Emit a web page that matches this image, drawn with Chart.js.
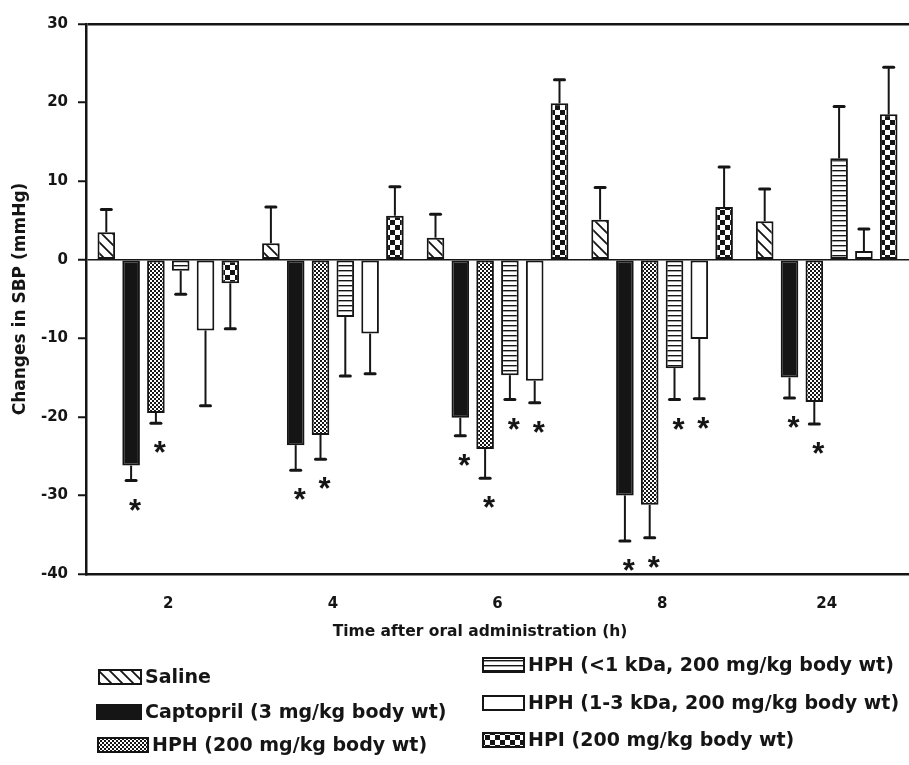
<!DOCTYPE html>
<html>
<head>
<meta charset="utf-8">
<script src="https://cdn.jsdelivr.net/npm/chart.js@4.4.0/dist/chart.umd.min.js"></script>
<style>
    html, body { margin: 0; padding: 0; background: #fff; }
</style>
</head>
<body>
<canvas id="sbpChart" width="909" height="765"></canvas>
<script>
// time points (h)
const hours = ['2', '4', '6', '8', '24']

const groupNames = [
    'Saline',
    'Captopril (3 mg/kg body wt)',
    'HPH (200 mg/kg body wt)',
    'HPH (<1 kDa, 200 mg/kg body wt)',
    'HPH (1-3 kDa, 200 mg/kg body wt)',
    'HPI (200 mg/kg body wt)'
]

// mean change in SBP (mmHg) and SE
const saline = [3.5, 2.1, 2.8, 5.1, 4.9]
const salineErr = [2.9, 4.6, 3.0, 4.1, 4.1]
const captopril = [-26.2, -23.6, -20.1, -30.0, -15.0]
const captoprilErr = [1.9, 3.2, 2.3, 5.8, 2.6]
const hph = [-19.5, -22.3, -24.1, -31.2, -18.1]
const hphErr = [1.3, 3.1, 3.7, 4.2, 2.8]
const hphLow = [-1.4, -7.3, -14.7, -13.8, 12.9]
const hphLowErr = [3.0, 7.5, 3.1, 4.0, 6.6]
const hphMid = [-9.0, -9.4, -15.4, -10.1, 1.1]
const hphMidErr = [9.6, 5.1, 2.8, 7.6, 2.8]
const hpi = [-3.0, 5.6, 19.9, 6.7, 18.5]
const hpiErr = [5.8, 3.7, 3.0, 5.1, 6.0]

// significance marks (*)
const noStars = [0, 0, 0, 0, 0]
const captoprilStars = [1, 1, 1, 1, 1]
const hphStars = [1, 1, 1, 1, 1]
const hphLowStars = [0, 0, 1, 1, 0]
const hphMidStars = [0, 0, 1, 1, 0]

const yTicks = [-40, -30, -20, -10, 0, 10, 20, 30]

const INK = '#151515'
const FONT = '"DejaVu Sans", Verdana, sans-serif'
const STAR_FONT = '"Liberation Sans", Arial, sans-serif'

const makePattern = function (w, h, paint) {
    const c = document.createElement('canvas')
    c.width = w
    c.height = h
    const g = c.getContext('2d')
    g.fillStyle = '#fff'
    g.fillRect(0, 0, w, h)
    g.fillStyle = INK
    g.strokeStyle = INK
    paint(g, w, h)
    return g.createPattern(c, 'repeat')
}

const stripes = makePattern(11, 11, function (g, w, h) {
    g.lineWidth = 1.8
    g.beginPath()
    g.moveTo(-2, -2); g.lineTo(w + 2, h + 2)
    g.moveTo(-2, h - 2); g.lineTo(2, h + 2)
    g.moveTo(w - 2, -2); g.lineTo(w + 2, 2)
    g.stroke()
})
const fineChecks = makePattern(4, 4, function (g) {
    g.fillRect(0, 0, 2, 2)
    g.fillRect(2, 2, 2, 2)
})
const hLines = makePattern(4, 5, function (g) {
    g.fillRect(0, 0, 4, 1.4)
})
const bigChecks = makePattern(10, 10, function (g) {
    g.fillRect(0, 0, 5, 5)
    g.fillRect(5, 5, 5, 5)
})

const fills = [stripes, INK, fineChecks, hLines, '#fff', bigChecks]
const means = [saline, captopril, hph, hphLow, hphMid, hpi]
const errs = [salineErr, captoprilErr, hphErr, hphLowErr, hphMidErr, hpiErr]
const stars = [noStars, captoprilStars, hphStars, hphLowStars, hphMidStars, noStars]

const datasets = groupNames.map(function (name, i) {
    return {
        label: name,
        data: means[i],
        errors: errs[i],
        stars: stars[i],
        backgroundColor: fills[i],
        borderColor: INK,
        borderWidth: 2,
        borderSkipped: false,
        categoryPercentage: 0.904,
        barPercentage: 0.71
    }
})

const errorBars = {
    id: 'errorBars',
    afterDatasetsDraw: function (chart) {
        const ctx = chart.ctx
        const y = chart.scales.y
        ctx.save()
        ctx.strokeStyle = INK
        ctx.fillStyle = INK
        chart.data.datasets.forEach(function (ds, i) {
            chart.getDatasetMeta(i).data.forEach(function (bar, j) {
                const v = ds.data[j]
                const dir = v < 0 ? -1 : 1
                const end = y.getPixelForValue(v + dir * ds.errors[j])
                ctx.lineWidth = 2
                ctx.lineCap = 'butt'
                ctx.beginPath()
                ctx.moveTo(bar.x, bar.y)
                ctx.lineTo(bar.x, end)
                ctx.stroke()
                ctx.lineWidth = 3
                ctx.lineCap = 'round'
                ctx.beginPath()
                ctx.moveTo(bar.x - 5, end)
                ctx.lineTo(bar.x + 5, end)
                ctx.stroke()
                if (ds.stars[j]) {
                    ctx.font = 'bold 31px ' + STAR_FONT
                    ctx.textAlign = 'center'
                    ctx.textBaseline = 'alphabetic'
                    ctx.fillText('*', bar.x + 4, end + 26 + 14)
                }
            })
        })
        ctx.restore()
    }
}

const legendItems = [
    { i: 0, x: 99, y: 677, w: 42 },
    { i: 1, x: 97, y: 712, w: 44 },
    { i: 2, x: 98, y: 745, w: 50 },
    { i: 3, x: 483, y: 665, w: 41 },
    { i: 4, x: 483, y: 703, w: 41 },
    { i: 5, x: 483, y: 740, w: 41 }
]

const extras = {
    id: 'extras',
    afterDraw: function (chart) {
        const ctx = chart.ctx
        ctx.save()
        ctx.fillStyle = INK
        ctx.font = 'bold 15.5px ' + FONT
        ctx.textAlign = 'center'
        ctx.textBaseline = 'middle'
        ctx.fillText('Time after oral administration (h)', 480, 632)

        ctx.font = 'bold 19px ' + FONT
        ctx.textAlign = 'left'
        legendItems.forEach(function (it) {
            ctx.fillStyle = fills[it.i]
            ctx.fillRect(it.x, it.y - 7, it.w, 14)
            ctx.strokeStyle = INK
            ctx.lineWidth = 2
            ctx.strokeRect(it.x, it.y - 7, it.w, 14)
            ctx.fillStyle = INK
            ctx.fillText(groupNames[it.i], it.x + it.w + 4, it.y + 1)
        })
        ctx.restore()
    }
}

new Chart(document.getElementById('sbpChart'), {
    type: 'bar',
    data: {
        labels: hours,
        datasets: datasets
    },
    plugins: [errorBars, extras],
    options: {
        responsive: false,
        animation: false,
        layout: { padding: { top: 24, right: 0, bottom: 0, left: 0 } },
        plugins: {
            legend: { display: false },
            tooltip: { enabled: false }
        },
        scales: {
            x: {
                grid: { display: false, drawTicks: false },
                border: { display: true, color: INK, width: 2.5 },
                ticks: {
                    color: INK,
                    padding: 21,
                    maxRotation: 0,
                    font: { family: FONT, size: 15, weight: 'bold' }
                },
                afterFit: function (scale) { scale.height = 191 }
            },
            y: {
                min: yTicks[0],
                max: yTicks[yTicks.length - 1],
                afterBuildTicks: function (scale) {
                    scale.ticks = yTicks.map(function (v) { return { value: v } })
                },
                grid: {
                    color: function (c) {
                        return c.tick && (c.tick.value === 0 || c.tick.value === 30) ? INK : 'rgba(0,0,0,0)'
                    },
                    lineWidth: function (c) {
                        return c.tick && c.tick.value === 0 ? 1.5 : 2.5
                    },
                    tickColor: INK,
                    tickWidth: 2,
                    tickLength: 8
                },
                border: { display: true, color: INK, width: 2.5 },
                ticks: {
                    color: INK,
                    padding: 10,
                    font: { family: FONT, size: 15, weight: 'bold' }
                },
                title: {
                    display: true,
                    text: 'Changes in SBP (mmHg)',
                    color: INK,
                    padding: { top: 10, bottom: 0 },
                    font: { family: FONT, size: 17, weight: 'bold' }
                },
                afterFit: function (scale) { scale.width = 86 }
            }
        }
    }
})
</script>
</body>
</html>
